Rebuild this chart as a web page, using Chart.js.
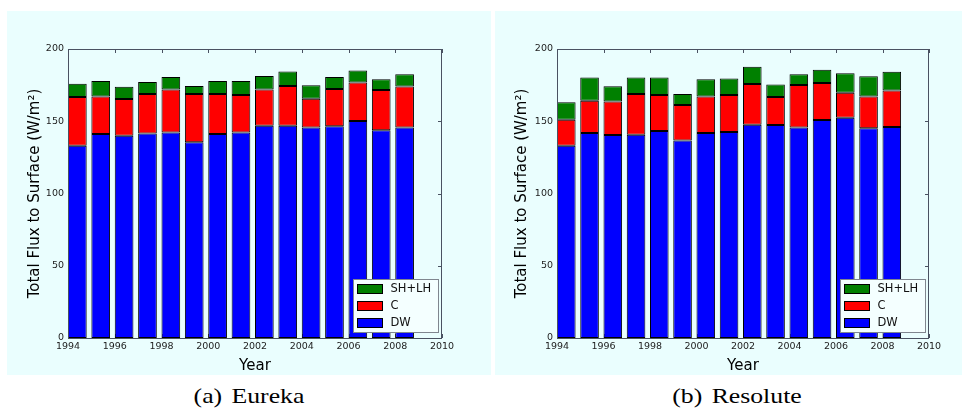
<!DOCTYPE html>
<html>
<head>
<meta charset="utf-8">
<script src="https://cdn.jsdelivr.net/npm/chart.js@4.4.1/dist/chart.umd.min.js"></script>
<style>
  body { margin: 0; background: #fff; width: 964px; height: 417px; position: relative; overflow: hidden; }
  .panel { position: absolute; top: 11px; height: 364px; background: #eafefe; }
  #eurekaBox { left: 7px; width: 484px; }
  #resoluteBox { left: 495px; width: 467px; }
  .caption { position: absolute; top: 383px; font-family: "Liberation Serif", serif; font-size: 22px; color: #000;
             transform: translateX(-50%) scaleX(1.17); white-space: nowrap; }
  .caption span { margin-right: 8px; }
</style>
</head>
<body>
<div class="panel" id="eurekaBox"><canvas id="eureka" width="484" height="364"></canvas></div>
<div class="panel" id="resoluteBox"><canvas id="resolute" width="467" height="364"></canvas></div>
<div class="caption" style="left:249px"><span>(a)</span>Eureka</div>
<div class="caption" style="left:737px"><span>(b)</span>Resolute</div>

<script>
const years = [1994, 1995, 1996, 1997, 1998, 1999, 2000, 2001, 2002, 2003, 2004, 2005, 2006, 2007, 2008];

// Eureka: downwelling, conduction, sensible + latent heat (W/m2)
const eurekaDW = [133.1, 141.2, 140.0, 141.6, 142.3, 135.4, 141.2, 142.3, 146.9, 146.9, 145.6, 146.5, 150.2, 143.7, 145.6];
const eurekaC  = [33.7, 26.0, 25.4, 27.3, 29.6, 33.5, 27.7, 25.9, 25.0, 27.5, 20.0, 25.8, 26.7, 27.9, 28.5];
const eurekaSH = [9.2, 10.7, 8.5, 8.3, 8.7, 5.5, 9.0, 9.7, 9.4, 10.1, 9.3, 8.3, 8.3, 7.4, 8.4];

// Resolute
const resoluteDW = [133.1, 141.9, 140.5, 140.7, 143.3, 136.6, 141.9, 142.6, 147.6, 147.4, 145.6, 150.9, 152.5, 145.1, 146.0];
const resoluteC  = [18.0, 22.3, 23.1, 28.2, 24.9, 24.6, 25.3, 25.6, 28.2, 19.4, 29.5, 25.6, 17.3, 22.1, 25.2];
const resoluteSH = [12.0, 16.0, 10.6, 11.3, 12.0, 7.7, 11.8, 11.3, 12.0, 8.7, 7.4, 9.2, 13.4, 13.9, 13.1];

const seriesLabels = ["DW", "C", "SH+LH"];
const seriesColors = ["#0000ff", "#ff0000", "#008000"];
const xTicks = [1994, 1996, 1998, 2000, 2002, 2004, 2006, 2008, 2010];
const yTicks = [0, 50, 100, 150, 200];

const axisColor = "#4a5262";
const barWidth = 0.8; // bars start at the year and span 0.8 of it

Chart.defaults.font.family = "'DejaVu Sans', sans-serif";
Chart.defaults.color = "#222";

// frame, inward tick marks and the lower-right legend
const framePlugin = {
  id: "frame",
  beforeDatasetsDraw(chart) {
    const { ctx, chartArea: a, scales: { x, y } } = chart;
    ctx.save();
    ctx.strokeStyle = axisColor;
    ctx.lineWidth = 1;
    ctx.beginPath();
    xTicks.forEach(v => {
      const px = Math.round(x.getPixelForValue(v)) + 0.5;
      ctx.moveTo(px, a.top); ctx.lineTo(px, a.top + 4);
      ctx.moveTo(px, a.bottom); ctx.lineTo(px, a.bottom - 4);
    });
    yTicks.forEach(v => {
      const py = Math.round(y.getPixelForValue(v)) + 0.5;
      ctx.moveTo(a.left, py); ctx.lineTo(a.left + 4, py);
      ctx.moveTo(a.right, py); ctx.lineTo(a.right - 4, py);
    });
    ctx.stroke();
    ctx.restore();
  },
  afterDatasetsDraw(chart) {
    const { ctx, chartArea: a } = chart;
    ctx.save();
    ctx.strokeStyle = axisColor;
    ctx.lineWidth = 1;
    ctx.strokeRect(Math.round(a.left) + 0.5, Math.round(a.top) + 0.5,
                   Math.round(a.right - a.left) - 1, Math.round(a.bottom - a.top));

    // legend box, entries listed top to bottom in reverse stacking order
    const w = 85, h = 53;
    const lx = Math.round(a.right) - 4 - w + 0.5;
    const ly = Math.round(a.bottom) - 6 - h + 0.5;
    ctx.fillStyle = "#f4ffff";
    ctx.strokeStyle = "#80868f";
    ctx.fillRect(lx, ly, w, h);
    ctx.strokeRect(lx, ly, w, h);
    ctx.font = "11.5px 'DejaVu Sans'";
    ctx.textBaseline = "middle";
    const sets = chart.data.datasets.slice().reverse();
    sets.forEach((ds, i) => {
      const cy = ly + 9 + i * 17.2;
      ctx.fillStyle = ds.backgroundColor;
      ctx.fillRect(lx + 4, Math.round(cy - 4.5), 25, 9);
      ctx.strokeStyle = "#000";
      ctx.strokeRect(lx + 4, Math.round(cy - 4.5) + 0.5, 25, 9);
      ctx.fillStyle = "#111";
      ctx.fillText(ds.label, lx + 37, cy + 0.5);
    });
    ctx.restore();
  }
};

function makeChart(id, dw, c, sh, yAxisWidth, rightPad, titlePad) {
  const ctx = document.getElementById(id).getContext("2d");
  const values = [dw, c, sh];
  return new Chart(ctx, {
    type: "bar",
    data: {
      datasets: values.map((vals, k) => ({
        label: seriesLabels[k],
        data: vals.map((v, i) => ({ x: years[i] + barWidth / 2, y: v })),
        backgroundColor: seriesColors[k],
        borderColor: "#000",
        borderWidth: 1,
        borderSkipped: false,
        categoryPercentage: 1,
        barPercentage: barWidth
      }))
    },
    options: {
      responsive: false,
      animation: false,
      layout: { padding: { left: 0, right: rightPad, top: 38, bottom: 0 } },
      plugins: { legend: { display: false }, tooltip: { enabled: false } },
      scales: {
        x: {
          type: "linear",
          stacked: true,
          offset: false,
          min: 1994, max: 2010,
          grid: { display: false, offset: false, drawTicks: false },
          border: { display: false },
          afterBuildTicks: s => { s.ticks = xTicks.map(v => ({ value: v })); },
          afterFit: s => { s.height = 37; },
          ticks: { autoSkip: false, maxRotation: 0, padding: 3, font: { size: 9.5 }, callback: v => String(v) },
          title: { display: true, text: "Year", color: "#000", font: { size: 15 }, padding: { top: 6, bottom: 0 } }
        },
        y: {
          stacked: true,
          min: 0, max: 200,
          grid: { display: false, drawTicks: false },
          border: { display: false },
          afterBuildTicks: s => { s.ticks = yTicks.map(v => ({ value: v })); },
          afterFit: s => { s.width = yAxisWidth; },
          ticks: { padding: 4, font: { size: 9.5 }, callback: v => String(v) },
          title: { display: true, text: "Total Flux to Surface (W/m²)", color: "#000", font: { size: 15 },
                   padding: { top: titlePad, bottom: 0 } }
        }
      }
    },
    plugins: [framePlugin]
  });
}

makeChart("eureka", eurekaDW, eurekaC, eurekaSH, 61, 49, 19);
makeChart("resolute", resoluteDW, resoluteC, resoluteSH, 62, 33, 18);
</script>
</body>
</html>
